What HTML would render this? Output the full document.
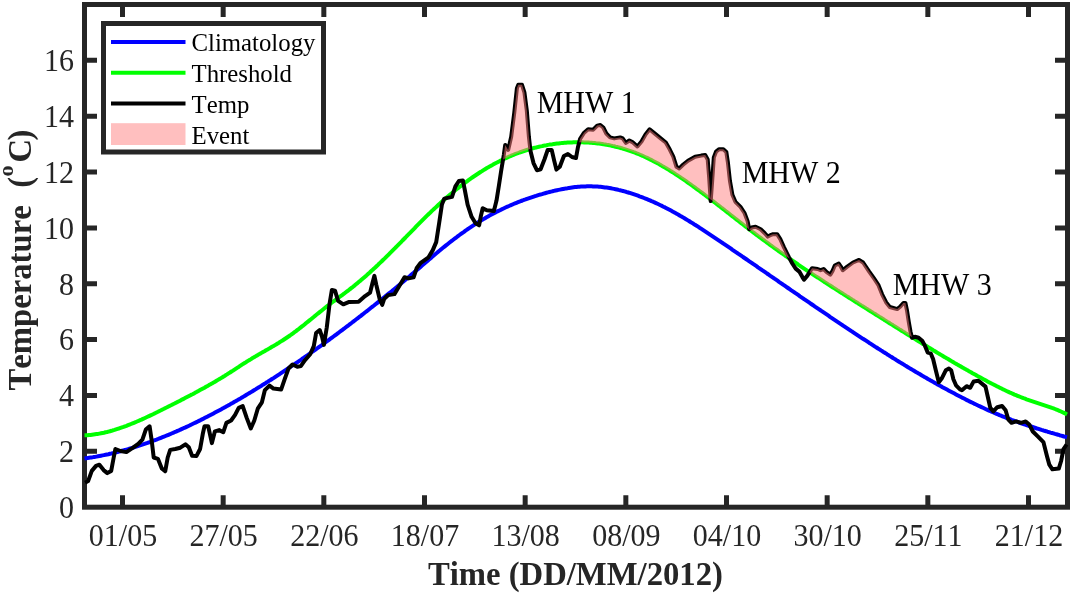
<!DOCTYPE html>
<html><head><meta charset="utf-8"><title>MHW</title>
<style>
html,body{margin:0;padding:0;background:#fff;}
body{width:1072px;height:593px;overflow:hidden;font-family:"Liberation Serif",serif;}
svg{display:block;will-change:transform;}
text{font-family:"Liberation Serif",serif;fill:#262626;font-kerning:none;}
.tk{font-size:30px;}
.lb{font-size:32.7px;font-weight:bold;}
.lg{font-size:24.8px;fill:#000;}
.an{font-size:30px;fill:#000;}
</style></head><body>
<svg width="1072" height="593" viewBox="0 0 1072 593">
<rect width="1072" height="593" fill="#fff"/>

<g stroke="#262626" stroke-width="5" fill="none" stroke-linecap="butt">
<rect x="84.5" y="4.5" width="983.0" height="502.7"/>
<path d="M122.50,507.2V495.2M122.50,4.5V17.0"/>
<path d="M223.17,507.2V495.2M223.17,4.5V17.0"/>
<path d="M323.83,507.2V495.2M323.83,4.5V17.0"/>
<path d="M424.50,507.2V495.2M424.50,4.5V17.0"/>
<path d="M525.17,507.2V495.2M525.17,4.5V17.0"/>
<path d="M625.84,507.2V495.2M625.84,4.5V17.0"/>
<path d="M726.50,507.2V495.2M726.50,4.5V17.0"/>
<path d="M827.17,507.2V495.2M827.17,4.5V17.0"/>
<path d="M927.84,507.2V495.2M927.84,4.5V17.0"/>
<path d="M1028.50,507.2V495.2M1028.50,4.5V17.0"/>
<path d="M84.5,451.34H97.0M1067.5,451.34H1055.0"/>
<path d="M84.5,395.48H97.0M1067.5,395.48H1055.0"/>
<path d="M84.5,339.62H97.0M1067.5,339.62H1055.0"/>
<path d="M84.5,283.76H97.0M1067.5,283.76H1055.0"/>
<path d="M84.5,227.90H97.0M1067.5,227.90H1055.0"/>
<path d="M84.5,172.04H97.0M1067.5,172.04H1055.0"/>
<path d="M84.5,116.18H97.0M1067.5,116.18H1055.0"/>
<path d="M84.5,60.32H97.0M1067.5,60.32H1055.0"/>
</g>
<g fill="none" stroke-width="4" stroke-linejoin="round" stroke-linecap="butt">
<path d="M84.5,458.5L86.0,458.3L87.5,458.1L89.0,457.8L90.5,457.6L92.0,457.4L93.5,457.1L95.0,456.9L96.5,456.6L98.0,456.3L99.5,456.0L101.0,455.7L102.5,455.4L104.0,455.1L105.5,454.8L107.0,454.5L108.5,454.2L110.0,453.8L111.5,453.5L113.0,453.1L114.5,452.8L116.0,452.4L117.5,452.0L119.0,451.6L120.5,451.2L122.0,450.8L123.5,450.4L125.0,450.0L126.5,449.6L128.0,449.2L129.5,448.7L131.0,448.3L132.5,447.8L134.0,447.3L135.5,446.9L137.0,446.4L138.5,445.9L140.0,445.4L141.5,444.9L143.0,444.4L144.5,443.9L146.0,443.4L147.5,442.9L149.0,442.3L150.5,441.8L152.0,441.2L153.5,440.7L155.0,440.1L156.5,439.6L158.0,439.0L159.5,438.4L161.0,437.8L162.5,437.2L164.0,436.6L165.5,436.0L167.0,435.4L168.5,434.8L170.0,434.2L171.5,433.5L173.0,432.9L174.5,432.2L176.0,431.6L177.5,430.9L179.0,430.3L180.5,429.6L182.0,428.9L183.5,428.2L185.0,427.6L186.5,426.9L188.0,426.2L189.5,425.5L191.0,424.7L192.5,424.0L194.0,423.3L195.5,422.6L197.0,421.9L198.5,421.1L200.0,420.4L201.5,419.6L203.0,418.9L204.5,418.1L206.0,417.3L207.5,416.6L209.0,415.8L210.5,415.0L212.0,414.2L213.5,413.4L215.0,412.6L216.5,411.8L218.0,411.0L219.5,410.2L221.0,409.4L222.5,408.6L224.0,407.8L225.5,406.9L227.0,406.1L228.5,405.2L230.0,404.4L231.5,403.5L233.0,402.7L234.5,401.8L236.0,401.0L237.5,400.1L239.0,399.2L240.5,398.4L242.0,397.5L243.5,396.6L245.0,395.7L246.5,394.8L248.0,393.9L249.5,393.0L251.0,392.1L252.5,391.2L254.0,390.3L255.5,389.4L257.0,388.4L258.5,387.5L260.0,386.6L261.5,385.7L263.0,384.7L264.5,383.8L266.0,382.8L267.5,381.9L269.0,380.9L270.5,380.0L272.0,379.0L273.5,378.1L275.0,377.1L276.5,376.1L278.0,375.1L279.5,374.2L281.0,373.2L282.5,372.2L284.0,371.2L285.5,370.2L287.0,369.2L288.5,368.2L290.0,367.2L291.5,366.2L293.0,365.2L294.5,364.2L296.0,363.1L297.5,362.1L299.0,361.1L300.5,360.1L302.0,359.0L303.5,358.0L305.0,356.9L306.5,355.9L308.0,354.9L309.5,353.8L311.0,352.7L312.5,351.7L314.0,350.6L315.5,349.6L317.0,348.5L318.5,347.4L320.0,346.3L321.5,345.3L323.0,344.2L324.5,343.1L326.0,342.0L327.5,340.9L329.0,339.8L330.5,338.7L332.0,337.6L333.5,336.5L335.0,335.4L336.5,334.3L338.0,333.2L339.5,332.0L341.0,330.9L342.5,329.8L344.0,328.7L345.5,327.5L347.0,326.4L348.5,325.3L350.0,324.1L351.5,323.0L353.0,321.8L354.5,320.7L356.0,319.5L357.5,318.4L359.0,317.2L360.5,316.1L362.0,314.9L363.5,313.7L365.0,312.5L366.5,311.4L368.0,310.2L369.5,309.0L371.0,307.8L372.5,306.6L374.0,305.5L375.5,304.3L377.0,303.1L378.5,301.9L380.0,300.7L381.5,299.5L383.0,298.3L384.5,297.1L386.0,295.8L387.5,294.6L389.0,293.4L390.5,292.2L392.0,291.0L393.5,289.7L395.0,288.5L396.5,287.3L398.0,286.0L399.5,284.8L401.0,283.5L402.5,282.3L404.0,281.0L405.5,279.7L407.0,278.5L408.5,277.2L410.0,275.9L411.5,274.6L413.0,273.4L414.5,272.1L416.0,270.8L417.5,269.5L419.0,268.2L420.5,266.9L422.0,265.6L423.5,264.3L425.0,263.0L426.5,261.7L428.0,260.4L429.5,259.1L431.0,257.9L432.5,256.6L434.0,255.3L435.5,254.0L437.0,252.8L438.5,251.5L440.0,250.3L441.5,249.0L443.0,247.8L444.5,246.6L446.0,245.4L447.5,244.2L449.0,243.0L450.5,241.8L452.0,240.7L453.5,239.5L455.0,238.4L456.5,237.3L458.0,236.1L459.5,235.0L461.0,233.9L462.5,232.8L464.0,231.8L465.5,230.7L467.0,229.7L468.5,228.6L470.0,227.6L471.5,226.6L473.0,225.6L474.5,224.6L476.0,223.7L477.5,222.7L479.0,221.8L480.5,220.9L482.0,219.9L483.5,219.1L485.0,218.2L486.5,217.3L488.0,216.5L489.5,215.6L491.0,214.8L492.5,214.0L494.0,213.2L495.5,212.4L497.0,211.6L498.5,210.9L500.0,210.2L501.5,209.4L503.0,208.7L504.5,208.0L506.0,207.3L507.5,206.6L509.0,206.0L510.5,205.3L512.0,204.7L513.5,204.0L515.0,203.4L516.5,202.8L518.0,202.2L519.5,201.6L521.0,201.0L522.5,200.5L524.0,199.9L525.5,199.4L527.0,198.8L528.5,198.3L530.0,197.8L531.5,197.3L533.0,196.8L534.5,196.3L536.0,195.9L537.5,195.4L539.0,194.9L540.5,194.5L542.0,194.1L543.5,193.6L545.0,193.2L546.5,192.8L548.0,192.4L549.5,192.0L551.0,191.6L552.5,191.3L554.0,190.9L555.5,190.5L557.0,190.2L558.5,189.9L560.0,189.6L561.5,189.3L563.0,189.0L564.5,188.7L566.0,188.4L567.5,188.2L569.0,187.9L570.5,187.7L572.0,187.5L573.5,187.3L575.0,187.1L576.5,187.0L578.0,186.8L579.5,186.7L581.0,186.6L582.5,186.5L584.0,186.4L585.5,186.4L587.0,186.3L588.5,186.3L590.0,186.3L591.5,186.3L593.0,186.4L594.5,186.4L596.0,186.5L597.5,186.6L599.0,186.7L600.5,186.8L602.0,187.0L603.5,187.2L605.0,187.4L606.5,187.6L608.0,187.8L609.5,188.0L611.0,188.3L612.5,188.6L614.0,188.9L615.5,189.2L617.0,189.5L618.5,189.9L620.0,190.2L621.5,190.6L623.0,191.0L624.5,191.4L626.0,191.8L627.5,192.3L629.0,192.7L630.5,193.2L632.0,193.7L633.5,194.2L635.0,194.7L636.5,195.2L638.0,195.7L639.5,196.3L641.0,196.8L642.5,197.4L644.0,198.0L645.5,198.6L647.0,199.2L648.5,199.8L650.0,200.4L651.5,201.1L653.0,201.7L654.5,202.4L656.0,203.1L657.5,203.8L659.0,204.5L660.5,205.2L662.0,205.9L663.5,206.7L665.0,207.4L666.5,208.2L668.0,209.0L669.5,209.8L671.0,210.6L672.5,211.4L674.0,212.2L675.5,213.1L677.0,213.9L678.5,214.8L680.0,215.7L681.5,216.5L683.0,217.4L684.5,218.3L686.0,219.2L687.5,220.1L689.0,221.0L690.5,222.0L692.0,222.9L693.5,223.8L695.0,224.8L696.5,225.7L698.0,226.7L699.5,227.7L701.0,228.6L702.5,229.6L704.0,230.6L705.5,231.6L707.0,232.6L708.5,233.6L710.0,234.6L711.5,235.6L713.0,236.6L714.5,237.6L716.0,238.6L717.5,239.6L719.0,240.6L720.5,241.6L722.0,242.6L723.5,243.7L725.0,244.7L726.5,245.7L728.0,246.7L729.5,247.7L731.0,248.7L732.5,249.8L734.0,250.8L735.5,251.8L737.0,252.8L738.5,253.9L740.0,254.9L741.5,255.9L743.0,257.0L744.5,258.0L746.0,259.0L747.5,260.0L749.0,261.1L750.5,262.1L752.0,263.1L753.5,264.2L755.0,265.2L756.5,266.2L758.0,267.3L759.5,268.3L761.0,269.3L762.5,270.4L764.0,271.4L765.5,272.4L767.0,273.5L768.5,274.5L770.0,275.6L771.5,276.6L773.0,277.6L774.5,278.7L776.0,279.7L777.5,280.7L779.0,281.8L780.5,282.8L782.0,283.8L783.5,284.9L785.0,285.9L786.5,287.0L788.0,288.0L789.5,289.0L791.0,290.1L792.5,291.1L794.0,292.1L795.5,293.2L797.0,294.2L798.5,295.2L800.0,296.3L801.5,297.3L803.0,298.3L804.5,299.4L806.0,300.4L807.5,301.4L809.0,302.4L810.5,303.5L812.0,304.5L813.5,305.5L815.0,306.6L816.5,307.6L818.0,308.6L819.5,309.6L821.0,310.7L822.5,311.7L824.0,312.7L825.5,313.7L827.0,314.7L828.5,315.7L830.0,316.8L831.5,317.8L833.0,318.8L834.5,319.8L836.0,320.8L837.5,321.8L839.0,322.8L840.5,323.8L842.0,324.8L843.5,325.9L845.0,326.9L846.5,327.9L848.0,328.9L849.5,329.9L851.0,330.9L852.5,331.8L854.0,332.8L855.5,333.8L857.0,334.8L858.5,335.8L860.0,336.8L861.5,337.8L863.0,338.8L864.5,339.7L866.0,340.7L867.5,341.7L869.0,342.7L870.5,343.6L872.0,344.6L873.5,345.6L875.0,346.6L876.5,347.5L878.0,348.5L879.5,349.4L881.0,350.4L882.5,351.3L884.0,352.3L885.5,353.2L887.0,354.2L888.5,355.1L890.0,356.1L891.5,357.0L893.0,358.0L894.5,358.9L896.0,359.8L897.5,360.8L899.0,361.7L900.5,362.6L902.0,363.5L903.5,364.4L905.0,365.4L906.5,366.3L908.0,367.2L909.5,368.1L911.0,369.0L912.5,369.9L914.0,370.8L915.5,371.7L917.0,372.6L918.5,373.4L920.0,374.3L921.5,375.2L923.0,376.1L924.5,377.0L926.0,377.8L927.5,378.7L929.0,379.6L930.5,380.4L932.0,381.3L933.5,382.1L935.0,383.0L936.5,383.8L938.0,384.7L939.5,385.5L941.0,386.3L942.5,387.2L944.0,388.0L945.5,388.8L947.0,389.6L948.5,390.4L950.0,391.2L951.5,392.0L953.0,392.8L954.5,393.6L956.0,394.4L957.5,395.2L959.0,396.0L960.5,396.8L962.0,397.6L963.5,398.3L965.0,399.1L966.5,399.9L968.0,400.6L969.5,401.4L971.0,402.1L972.5,402.8L974.0,403.6L975.5,404.3L977.0,405.0L978.5,405.7L980.0,406.4L981.5,407.1L983.0,407.8L984.5,408.5L986.0,409.2L987.5,409.9L989.0,410.6L990.5,411.2L992.0,411.9L993.5,412.5L995.0,413.2L996.5,413.8L998.0,414.4L999.5,415.1L1001.0,415.7L1002.5,416.3L1004.0,416.9L1005.5,417.5L1007.0,418.0L1008.5,418.6L1010.0,419.2L1011.5,419.8L1013.0,420.3L1014.5,420.9L1016.0,421.4L1017.5,421.9L1019.0,422.5L1020.5,423.0L1022.0,423.5L1023.5,424.0L1025.0,424.5L1026.5,425.1L1028.0,425.6L1029.5,426.0L1031.0,426.5L1032.5,427.0L1034.0,427.5L1035.5,428.0L1037.0,428.5L1038.5,428.9L1040.0,429.4L1041.5,429.9L1043.0,430.3L1044.5,430.8L1046.0,431.2L1047.5,431.7L1049.0,432.1L1050.5,432.6L1052.0,433.0L1053.5,433.4L1055.0,433.9L1056.5,434.3L1058.0,434.7L1059.5,435.2L1061.0,435.6L1062.5,436.0L1064.0,436.5L1065.5,436.9L1067.0,437.3" stroke="#0000ff"/>
<path d="M84.5,435.3L86.0,435.3L87.5,435.2L89.0,435.0L90.5,434.9L92.0,434.7L93.5,434.5L95.0,434.3L96.5,434.1L98.0,433.9L99.5,433.6L101.0,433.3L102.5,433.0L104.0,432.7L105.5,432.3L107.0,432.0L108.5,431.6L110.0,431.2L111.5,430.8L113.0,430.3L114.5,429.9L116.0,429.4L117.5,428.9L119.0,428.5L120.5,427.9L122.0,427.4L123.5,426.9L125.0,426.3L126.5,425.8L128.0,425.2L129.5,424.6L131.0,424.0L132.5,423.4L134.0,422.8L135.5,422.2L137.0,421.5L138.5,420.9L140.0,420.2L141.5,419.6L143.0,418.9L144.5,418.2L146.0,417.5L147.5,416.8L149.0,416.1L150.5,415.4L152.0,414.7L153.5,414.0L155.0,413.2L156.5,412.5L158.0,411.8L159.5,411.0L161.0,410.3L162.5,409.5L164.0,408.8L165.5,408.0L167.0,407.3L168.5,406.5L170.0,405.7L171.5,405.0L173.0,404.2L174.5,403.5L176.0,402.7L177.5,401.9L179.0,401.2L180.5,400.4L182.0,399.6L183.5,398.9L185.0,398.1L186.5,397.3L188.0,396.5L189.5,395.7L191.0,394.9L192.5,394.2L194.0,393.4L195.5,392.6L197.0,391.8L198.5,390.9L200.0,390.1L201.5,389.3L203.0,388.5L204.5,387.7L206.0,386.8L207.5,386.0L209.0,385.1L210.5,384.3L212.0,383.4L213.5,382.6L215.0,381.7L216.5,380.8L218.0,379.9L219.5,379.0L221.0,378.1L222.5,377.2L224.0,376.3L225.5,375.3L227.0,374.4L228.5,373.4L230.0,372.5L231.5,371.5L233.0,370.6L234.5,369.6L236.0,368.6L237.5,367.6L239.0,366.7L240.5,365.7L242.0,364.7L243.5,363.7L245.0,362.8L246.5,361.8L248.0,360.9L249.5,360.0L251.0,359.1L252.5,358.1L254.0,357.3L255.5,356.4L257.0,355.5L258.5,354.6L260.0,353.8L261.5,352.9L263.0,352.0L264.5,351.2L266.0,350.3L267.5,349.5L269.0,348.6L270.5,347.7L272.0,346.8L273.5,346.0L275.0,345.1L276.5,344.2L278.0,343.3L279.5,342.3L281.0,341.4L282.5,340.5L284.0,339.5L285.5,338.5L287.0,337.5L288.5,336.5L290.0,335.5L291.5,334.4L293.0,333.3L294.5,332.2L296.0,331.1L297.5,329.9L299.0,328.8L300.5,327.6L302.0,326.4L303.5,325.3L305.0,324.1L306.5,322.8L308.0,321.6L309.5,320.4L311.0,319.2L312.5,318.0L314.0,316.8L315.5,315.5L317.0,314.3L318.5,313.1L320.0,311.9L321.5,310.7L323.0,309.5L324.5,308.3L326.0,307.1L327.5,305.9L329.0,304.8L330.5,303.6L332.0,302.5L333.5,301.4L335.0,300.3L336.5,299.2L338.0,298.1L339.5,297.0L341.0,295.9L342.5,294.8L344.0,293.7L345.5,292.5L347.0,291.4L348.5,290.3L350.0,289.1L351.5,287.9L353.0,286.8L354.5,285.6L356.0,284.3L357.5,283.1L359.0,281.8L360.5,280.6L362.0,279.3L363.5,278.0L365.0,276.7L366.5,275.4L368.0,274.0L369.5,272.7L371.0,271.3L372.5,269.9L374.0,268.6L375.5,267.2L377.0,265.8L378.5,264.3L380.0,262.9L381.5,261.5L383.0,260.0L384.5,258.6L386.0,257.1L387.5,255.6L389.0,254.2L390.5,252.7L392.0,251.2L393.5,249.7L395.0,248.2L396.5,246.6L398.0,245.1L399.5,243.6L401.0,242.1L402.5,240.5L404.0,239.0L405.5,237.5L407.0,235.9L408.5,234.4L410.0,232.9L411.5,231.3L413.0,229.8L414.5,228.3L416.0,226.7L417.5,225.2L419.0,223.7L420.5,222.2L422.0,220.7L423.5,219.2L425.0,217.7L426.5,216.2L428.0,214.7L429.5,213.3L431.0,211.8L432.5,210.4L434.0,209.0L435.5,207.6L437.0,206.2L438.5,204.8L440.0,203.4L441.5,202.0L443.0,200.7L444.5,199.4L446.0,198.1L447.5,196.8L449.0,195.5L450.5,194.2L452.0,193.0L453.5,191.7L455.0,190.5L456.5,189.3L458.0,188.1L459.5,186.9L461.0,185.8L462.5,184.6L464.0,183.5L465.5,182.4L467.0,181.3L468.5,180.2L470.0,179.1L471.5,178.0L473.0,177.0L474.5,176.0L476.0,175.0L477.5,174.0L479.0,173.0L480.5,172.0L482.0,171.1L483.5,170.1L485.0,169.2L486.5,168.3L488.0,167.4L489.5,166.6L491.0,165.7L492.5,164.9L494.0,164.0L495.5,163.2L497.0,162.5L498.5,161.7L500.0,160.9L501.5,160.2L503.0,159.5L504.5,158.7L506.0,158.1L507.5,157.4L509.0,156.7L510.5,156.1L512.0,155.4L513.5,154.8L515.0,154.2L516.5,153.6L518.0,153.1L519.5,152.5L521.0,152.0L522.5,151.5L524.0,151.0L525.5,150.5L527.0,150.0L528.5,149.5L530.0,149.1L531.5,148.7L533.0,148.2L534.5,147.8L536.0,147.5L537.5,147.1L539.0,146.7L540.5,146.4L542.0,146.1L543.5,145.7L545.0,145.4L546.5,145.2L548.0,144.9L549.5,144.6L551.0,144.4L552.5,144.2L554.0,143.9L555.5,143.7L557.0,143.5L558.5,143.4L560.0,143.2L561.5,143.1L563.0,142.9L564.5,142.8L566.0,142.7L567.5,142.6L569.0,142.5L570.5,142.4L572.0,142.4L573.5,142.3L575.0,142.3L576.5,142.3L578.0,142.3L579.5,142.3L581.0,142.3L582.5,142.3L584.0,142.4L585.5,142.5L587.0,142.5L588.5,142.6L590.0,142.7L591.5,142.8L593.0,143.0L594.5,143.1L596.0,143.3L597.5,143.4L599.0,143.6L600.5,143.8L602.0,144.0L603.5,144.3L605.0,144.5L606.5,144.8L608.0,145.0L609.5,145.3L611.0,145.6L612.5,146.0L614.0,146.3L615.5,146.7L617.0,147.0L618.5,147.4L620.0,147.8L621.5,148.2L623.0,148.7L624.5,149.1L626.0,149.6L627.5,150.1L629.0,150.6L630.5,151.1L632.0,151.6L633.5,152.2L635.0,152.7L636.5,153.3L638.0,153.9L639.5,154.5L641.0,155.2L642.5,155.8L644.0,156.5L645.5,157.2L647.0,157.9L648.5,158.6L650.0,159.4L651.5,160.1L653.0,160.9L654.5,161.7L656.0,162.5L657.5,163.3L659.0,164.1L660.5,165.0L662.0,165.9L663.5,166.7L665.0,167.6L666.5,168.5L668.0,169.4L669.5,170.3L671.0,171.3L672.5,172.2L674.0,173.2L675.5,174.2L677.0,175.1L678.5,176.1L680.0,177.1L681.5,178.2L683.0,179.2L684.5,180.2L686.0,181.2L687.5,182.3L689.0,183.4L690.5,184.4L692.0,185.5L693.5,186.6L695.0,187.7L696.5,188.8L698.0,189.9L699.5,191.0L701.0,192.1L702.5,193.2L704.0,194.3L705.5,195.5L707.0,196.6L708.5,197.7L710.0,198.9L711.5,200.0L713.0,201.2L714.5,202.3L716.0,203.5L717.5,204.7L719.0,205.8L720.5,207.0L722.0,208.2L723.5,209.3L725.0,210.5L726.5,211.7L728.0,212.8L729.5,214.0L731.0,215.2L732.5,216.4L734.0,217.5L735.5,218.7L737.0,219.9L738.5,221.0L740.0,222.2L741.5,223.4L743.0,224.5L744.5,225.7L746.0,226.9L747.5,228.0L749.0,229.2L750.5,230.3L752.0,231.5L753.5,232.6L755.0,233.7L756.5,234.9L758.0,236.0L759.5,237.1L761.0,238.2L762.5,239.3L764.0,240.4L765.5,241.5L767.0,242.6L768.5,243.7L770.0,244.8L771.5,245.9L773.0,247.0L774.5,248.1L776.0,249.1L777.5,250.2L779.0,251.3L780.5,252.3L782.0,253.4L783.5,254.4L785.0,255.5L786.5,256.5L788.0,257.6L789.5,258.6L791.0,259.6L792.5,260.7L794.0,261.7L795.5,262.7L797.0,263.7L798.5,264.8L800.0,265.8L801.5,266.8L803.0,267.8L804.5,268.8L806.0,269.8L807.5,270.8L809.0,271.8L810.5,272.8L812.0,273.8L813.5,274.8L815.0,275.8L816.5,276.8L818.0,277.7L819.5,278.7L821.0,279.7L822.5,280.7L824.0,281.7L825.5,282.6L827.0,283.6L828.5,284.6L830.0,285.5L831.5,286.5L833.0,287.5L834.5,288.4L836.0,289.4L837.5,290.4L839.0,291.3L840.5,292.3L842.0,293.2L843.5,294.2L845.0,295.1L846.5,296.1L848.0,297.0L849.5,298.0L851.0,298.9L852.5,299.9L854.0,300.8L855.5,301.8L857.0,302.7L858.5,303.7L860.0,304.6L861.5,305.6L863.0,306.5L864.5,307.4L866.0,308.4L867.5,309.3L869.0,310.3L870.5,311.2L872.0,312.1L873.5,313.1L875.0,314.0L876.5,315.0L878.0,315.9L879.5,316.9L881.0,317.8L882.5,318.7L884.0,319.7L885.5,320.6L887.0,321.6L888.5,322.5L890.0,323.5L891.5,324.4L893.0,325.3L894.5,326.3L896.0,327.2L897.5,328.1L899.0,329.1L900.5,330.0L902.0,331.0L903.5,331.9L905.0,332.8L906.5,333.8L908.0,334.7L909.5,335.6L911.0,336.6L912.5,337.5L914.0,338.4L915.5,339.3L917.0,340.3L918.5,341.2L920.0,342.1L921.5,343.0L923.0,344.0L924.5,344.9L926.0,345.8L927.5,346.7L929.0,347.6L930.5,348.5L932.0,349.4L933.5,350.4L935.0,351.3L936.5,352.2L938.0,353.1L939.5,354.0L941.0,354.9L942.5,355.8L944.0,356.7L945.5,357.6L947.0,358.4L948.5,359.3L950.0,360.2L951.5,361.1L953.0,362.0L954.5,362.9L956.0,363.7L957.5,364.6L959.0,365.5L960.5,366.3L962.0,367.2L963.5,368.1L965.0,368.9L966.5,369.8L968.0,370.6L969.5,371.5L971.0,372.3L972.5,373.2L974.0,374.0L975.5,374.8L977.0,375.7L978.5,376.5L980.0,377.3L981.5,378.1L983.0,379.0L984.5,379.8L986.0,380.6L987.5,381.4L989.0,382.2L990.5,383.0L992.0,383.8L993.5,384.5L995.0,385.3L996.5,386.1L998.0,386.8L999.5,387.6L1001.0,388.3L1002.5,389.1L1004.0,389.8L1005.5,390.5L1007.0,391.2L1008.5,391.9L1010.0,392.6L1011.5,393.2L1013.0,393.9L1014.5,394.6L1016.0,395.2L1017.5,395.8L1019.0,396.4L1020.5,397.0L1022.0,397.6L1023.5,398.2L1025.0,398.7L1026.5,399.3L1028.0,399.8L1029.5,400.3L1031.0,400.8L1032.5,401.3L1034.0,401.8L1035.5,402.3L1037.0,402.8L1038.5,403.3L1040.0,403.8L1041.5,404.3L1043.0,404.8L1044.5,405.3L1046.0,405.8L1047.5,406.3L1049.0,406.8L1050.5,407.3L1052.0,407.9L1053.5,408.4L1055.0,409.0L1056.5,409.6L1058.0,410.2L1059.5,410.9L1061.0,411.5L1062.5,412.2L1064.0,412.9L1065.5,413.6L1067.0,414.4" stroke="#00ff00"/>
<path d="M85.1,482.7L88.1,481.1L91.8,470.9L96.0,465.9L99.4,464.7L103.6,470.1L107.3,473.1L111.2,470.9L113.7,457.5L115.4,449.0L120.5,451.0L126.4,452.1L132.3,448.2L138.2,444.0L142.4,439.7L145.8,429.6L149.6,426.3L151.7,440.6L153.7,457.5L157.9,458.8L161.8,468.4L165.2,471.3L167.7,457.5L170.2,449.9L175.3,449.0L180.3,447.7L185.4,444.3L188.8,447.3L192.1,455.8L196.4,456.1L200.1,449.0L202.8,433.8L204.5,426.3L208.2,426.3L211.9,443.1L214.9,431.3L219.1,430.1L223.3,432.2L226.4,422.9L231.1,420.5L235.1,414.9L238.7,407.8L242.7,406.1L246.7,417.9L250.8,428.5L254.3,420.5L257.9,408.3L261.9,402.3L264.9,390.1L269.5,385.6L273.5,388.6L281.1,389.6L284.7,379.1L288.5,368.5L292.5,364.5L297.3,366.8L300.8,366.1L305.0,360.2L310.2,354.3L313.8,346.1L316.1,333.1L319.7,330.0L322.0,336.6L323.9,344.9L326.8,327.2L329.6,303.6L331.9,289.9L335.0,290.6L338.1,300.8L343.3,304.3L349.2,301.9L358.6,301.7L365.1,296.1L370.1,292.6L372.6,282.5L374.4,275.9L376.2,284.5L379.7,299.2L382.2,304.8L384.3,298.7L388.3,295.1L394.4,294.1L398.4,287.5L404.5,277.2L408.5,278.4L413.6,277.4L416.6,268.3L420.7,262.8L428.5,257.3L432.8,250.1L436.2,242.1L439.2,222.8L441.9,204.6L444.3,198.6L452.0,196.9L455.4,186.4L458.9,181.0L462.9,180.4L464.9,190.5L467.6,204.6L471.6,216.8L475.6,223.3L479.1,225.3L480.7,216.8L482.7,208.3L486.8,210.3L493.9,211.1L496.5,200.6L499.0,185.0L501.1,171.2L503.8,155.0L505.2,144.9L508.2,149.9L511.2,136.8L514.3,112.5L516.9,88.2L518.3,84.8L522.0,84.8L524.4,92.3L526.8,110.5L528.9,136.8L530.5,150.9L533.5,163.1L536.9,170.2L540.6,169.2L544.6,159.0L547.7,149.9L551.7,149.9L554.3,161.1L556.4,169.6L559.8,166.7L563.9,156.0L567.9,154.0L572.0,157.0L576.0,158.0L578.0,146.9L580.1,138.8L584.1,132.7L588.1,129.3L593.2,129.7L597.2,125.6L600.3,125.0L603.3,127.5L606.3,133.5L610.1,137.4L614.2,138.4L620.2,137.4L622.7,138.4L625.9,142.9L629.3,140.5L632.4,142.1L637.4,146.5L641.5,141.5L645.5,134.4L649.6,129.3L654.6,133.4L660.7,138.4L665.8,142.5L669.8,149.6L673.3,156.7L676.5,166.8L679.3,168.4L683.0,164.8L688.0,160.7L695.1,156.7L701.2,155.6L705.2,155.0L707.7,159.5L709.2,178.0L710.7,201.0L712.2,180.7L713.8,157.5L716.0,151.7L719.2,149.2L723.3,149.2L726.3,151.9L727.9,162.4L729.9,180.6L732.4,194.8L735.4,201.8L740.5,206.9L744.5,213.0L747.6,221.1L749.2,229.2L751.6,227.5L755.6,226.7L760.7,229.2L764.8,233.2L767.8,236.6L771.2,234.8L773.0,234.2L777.1,234.2L780.3,239.2L784.0,247.3L789.0,257.4L792.3,263.5L795.7,268.6L799.3,271.6L802.4,277.1L804.0,279.7L807.4,275.6L810.5,270.6L812.1,268.2L817.6,269.0L820.6,270.2L823.6,269.0L826.7,272.2L830.3,274.6L832.7,270.6L834.8,265.5L838.8,263.5L840.8,266.5L842.8,270.2L846.9,266.9L853.0,262.5L859.0,259.9L863.1,262.5L869.2,271.6L874.2,278.7L878.3,284.8L882.1,294.3L886.2,302.4L889.8,307.0L893.3,308.0L897.3,309.1L900.4,306.4L903.4,303.0L905.4,303.0L907.0,310.5L908.9,322.6L910.5,331.7L912.1,337.8L914.9,336.8L918.6,337.8L922.2,340.8L925.0,345.9L927.7,352.6L930.7,353.4L933.1,359.0L935.8,370.2L938.8,382.3L941.8,378.3L945.9,370.2L948.9,368.5L951.3,370.6L953.4,379.3L956.0,385.3L960.0,389.4L961.9,390.2L966.6,386.2L970.2,387.8L973.7,381.4L978.4,380.7L985.5,386.6L987.9,397.3L990.3,407.9L993.3,411.4L997.3,407.2L1002.1,406.0L1005.6,410.2L1008.4,419.7L1011.5,422.8L1016.2,421.4L1021.0,422.8L1025.7,421.4L1029.2,424.4L1032.8,431.5L1037.5,436.2L1043.4,442.1L1047.0,456.3L1049.3,464.6L1052.4,469.3L1058.8,468.6L1061.1,461.0L1063.5,449.2L1066.6,444.5" stroke="#000"/>
</g>
<g fill="#ff8080" fill-opacity="0.5" stroke="none"><path d="M503.1,159.4L503.8,155.0L505.2,144.9L508.2,149.9L511.2,136.8L514.3,112.5L516.9,88.2L518.3,84.8L522.0,84.8L524.4,92.3L526.8,110.5L528.9,136.8L530.3,149.0L530.0,149.1L528.5,149.5L527.0,150.0L525.5,150.5L524.0,151.0L522.5,151.5L521.0,152.0L519.5,152.5L518.0,153.1L516.5,153.6L515.0,154.2L513.5,154.8L512.0,155.4L510.5,156.1L509.0,156.7L507.5,157.4L506.0,158.1L504.5,158.7Z"/><path d="M579.2,142.3L580.1,138.8L584.1,132.7L588.1,129.3L593.2,129.7L597.2,125.6L600.3,125.0L603.3,127.5L606.3,133.5L610.1,137.4L614.2,138.4L620.2,137.4L622.7,138.4L625.9,142.9L629.3,140.5L632.4,142.1L637.4,146.5L641.5,141.5L645.5,134.4L649.6,129.3L654.6,133.4L660.7,138.4L665.8,142.5L669.8,149.6L673.3,156.7L676.5,166.8L679.3,168.4L683.0,164.8L688.0,160.7L695.1,156.7L701.2,155.6L705.2,155.0L707.7,159.5L709.2,178.0L710.7,199.4L712.2,180.7L713.8,157.5L716.0,151.7L719.2,149.2L723.3,149.2L726.3,151.9L727.9,162.4L729.9,180.6L732.4,194.8L735.4,201.8L740.5,206.9L744.5,213.0L747.6,221.1L749.2,229.2L751.6,227.5L755.6,226.7L760.7,229.2L764.8,233.2L767.8,236.6L771.2,234.8L773.0,234.2L777.1,234.2L780.3,239.2L784.0,247.3L789.0,257.4L789.7,258.8L789.5,258.6L788.0,257.6L786.5,256.5L785.0,255.5L783.5,254.4L782.0,253.4L780.5,252.3L779.0,251.3L777.5,250.2L776.0,249.1L774.5,248.1L773.0,247.0L771.5,245.9L770.0,244.8L768.5,243.7L767.0,242.6L765.5,241.5L764.0,240.4L762.5,239.3L761.0,238.2L759.5,237.1L758.0,236.0L756.5,234.9L755.0,233.7L753.5,232.6L752.0,231.5L750.5,230.3L749.0,229.2L747.5,228.0L746.0,226.9L744.5,225.7L743.0,224.5L741.5,223.4L740.0,222.2L738.5,221.0L737.0,219.9L735.5,218.7L734.0,217.5L732.5,216.4L731.0,215.2L729.5,214.0L728.0,212.8L726.5,211.7L725.0,210.5L723.5,209.3L722.0,208.2L720.5,207.0L719.0,205.8L717.5,204.7L716.0,203.5L714.5,202.3L713.0,201.2L711.5,200.0L710.0,198.9L708.5,197.7L707.0,196.6L705.5,195.5L704.0,194.3L702.5,193.2L701.0,192.1L699.5,191.0L698.0,189.9L696.5,188.8L695.0,187.7L693.5,186.6L692.0,185.5L690.5,184.4L689.0,183.4L687.5,182.3L686.0,181.2L684.5,180.2L683.0,179.2L681.5,178.2L680.0,177.1L678.5,176.1L677.0,175.1L675.5,174.2L674.0,173.2L672.5,172.2L671.0,171.3L669.5,170.3L668.0,169.4L666.5,168.5L665.0,167.6L663.5,166.7L662.0,165.9L660.5,165.0L659.0,164.1L657.5,163.3L656.0,162.5L654.5,161.7L653.0,160.9L651.5,160.1L650.0,159.4L648.5,158.6L647.0,157.9L645.5,157.2L644.0,156.5L642.5,155.8L641.0,155.2L639.5,154.5L638.0,153.9L636.5,153.3L635.0,152.7L633.5,152.2L632.0,151.6L630.5,151.1L629.0,150.6L627.5,150.1L626.0,149.6L624.5,149.1L623.0,148.7L621.5,148.2L620.0,147.8L618.5,147.4L617.0,147.0L615.5,146.7L614.0,146.3L612.5,146.0L611.0,145.6L609.5,145.3L608.0,145.0L606.5,144.8L605.0,144.5L603.5,144.3L602.0,144.0L600.5,143.8L599.0,143.6L597.5,143.4L596.0,143.3L594.5,143.1L593.0,143.0L591.5,142.8L590.0,142.7L588.5,142.6L587.0,142.5L585.5,142.5L584.0,142.4L582.5,142.3L581.0,142.3L579.5,142.3Z"/><path d="M809.5,272.2L810.5,270.6L812.1,268.2L817.6,269.0L820.6,270.2L823.6,269.0L826.7,272.2L830.3,274.6L832.7,270.6L834.8,265.5L838.8,263.5L840.8,266.5L842.8,270.2L846.9,266.9L853.0,262.5L859.0,259.9L863.1,262.5L869.2,271.6L874.2,278.7L878.3,284.8L882.1,294.3L886.2,302.4L889.8,307.0L893.3,308.0L897.3,309.1L900.4,306.4L903.4,303.0L905.4,303.0L907.0,310.5L908.9,322.6L910.5,331.7L911.9,337.1L911.0,336.6L909.5,335.6L908.0,334.7L906.5,333.8L905.0,332.8L903.5,331.9L902.0,331.0L900.5,330.0L899.0,329.1L897.5,328.1L896.0,327.2L894.5,326.3L893.0,325.3L891.5,324.4L890.0,323.5L888.5,322.5L887.0,321.6L885.5,320.6L884.0,319.7L882.5,318.7L881.0,317.8L879.5,316.9L878.0,315.9L876.5,315.0L875.0,314.0L873.5,313.1L872.0,312.1L870.5,311.2L869.0,310.3L867.5,309.3L866.0,308.4L864.5,307.4L863.0,306.5L861.5,305.6L860.0,304.6L858.5,303.7L857.0,302.7L855.5,301.8L854.0,300.8L852.5,299.9L851.0,298.9L849.5,298.0L848.0,297.0L846.5,296.1L845.0,295.1L843.5,294.2L842.0,293.2L840.5,292.3L839.0,291.3L837.5,290.4L836.0,289.4L834.5,288.4L833.0,287.5L831.5,286.5L830.0,285.5L828.5,284.6L827.0,283.6L825.5,282.6L824.0,281.7L822.5,280.7L821.0,279.7L819.5,278.7L818.0,277.7L816.5,276.8L815.0,275.8L813.5,274.8L812.0,273.8L810.5,272.8Z"/></g>
<text class="tk" transform="translate(123.00,546.00) scale(1,1.03)" text-anchor="middle">01/05</text>
<text class="tk" transform="translate(223.67,546.00) scale(1,1.03)" text-anchor="middle">27/05</text>
<text class="tk" transform="translate(324.33,546.00) scale(1,1.03)" text-anchor="middle">22/06</text>
<text class="tk" transform="translate(425.00,546.00) scale(1,1.03)" text-anchor="middle">18/07</text>
<text class="tk" transform="translate(525.67,546.00) scale(1,1.03)" text-anchor="middle">13/08</text>
<text class="tk" transform="translate(626.34,546.00) scale(1,1.03)" text-anchor="middle">08/09</text>
<text class="tk" transform="translate(727.00,546.00) scale(1,1.03)" text-anchor="middle">04/10</text>
<text class="tk" transform="translate(827.67,546.00) scale(1,1.03)" text-anchor="middle">30/10</text>
<text class="tk" transform="translate(928.34,546.00) scale(1,1.03)" text-anchor="middle">25/11</text>
<text class="tk" transform="translate(1029.00,546.00) scale(1,1.03)" text-anchor="middle">21/12</text>
<text class="tk" transform="translate(74.00,518.00) scale(1,1.03)" text-anchor="end">0</text>
<text class="tk" transform="translate(74.00,462.14) scale(1,1.03)" text-anchor="end">2</text>
<text class="tk" transform="translate(74.00,406.28) scale(1,1.03)" text-anchor="end">4</text>
<text class="tk" transform="translate(74.00,350.42) scale(1,1.03)" text-anchor="end">6</text>
<text class="tk" transform="translate(74.00,294.56) scale(1,1.03)" text-anchor="end">8</text>
<text class="tk" transform="translate(74.00,238.70) scale(1,1.03)" text-anchor="end">10</text>
<text class="tk" transform="translate(74.00,182.84) scale(1,1.03)" text-anchor="end">12</text>
<text class="tk" transform="translate(74.00,126.98) scale(1,1.03)" text-anchor="end">14</text>
<text class="tk" transform="translate(74.00,71.12) scale(1,1.03)" text-anchor="end">16</text>
<text class="lb" transform="translate(575.40,584.80) scale(1,1.0)" text-anchor="middle">Time (DD/MM/2012)</text>
<g transform="translate(31,0) rotate(-90)">
<text class="lb" x="-390.5" y="0">Temperature</text>
<text class="lb" x="-187.8" y="0">(</text>
<text class="lb" x="-176.5" y="-18.5" style="font-size:22px">o</text>
<text class="lb" x="-162.5" y="0">C</text>
<text class="lb" x="-140.6" y="0">)</text>
</g>
<text class="an" transform="translate(536.70,113.00) scale(1,1.03)" text-anchor="start">MHW 1</text>
<text class="an" transform="translate(741.70,183.00) scale(1,1.03)" text-anchor="start">MHW 2</text>
<text class="an" transform="translate(892.70,294.70) scale(1,1.03)" text-anchor="start">MHW 3</text>
<rect x="103.5" y="23.5" width="220" height="128.5" fill="#fff" stroke="#262626" stroke-width="5"/>
<g stroke-width="4" fill="none"><path d="M111,42H185.5" stroke="#0000ff"/><path d="M111,72.8H185.5" stroke="#00ff00"/><path d="M111,103.6H185.5" stroke="#000"/></g>
<rect x="111" y="123.2" width="74.5" height="21.8" fill="#ff8080" fill-opacity="0.5"/>
<text class="lg" transform="translate(191.50,51.40) scale(1,1.03)" text-anchor="start">Climatology</text>
<text class="lg" transform="translate(191.50,82.20) scale(1,1.03)" text-anchor="start">Threshold</text>
<text class="lg" transform="translate(191.50,113.00) scale(1,1.03)" text-anchor="start">Temp</text>
<text class="lg" transform="translate(191.50,143.80) scale(1,1.03)" text-anchor="start">Event</text>
</svg></body></html>
